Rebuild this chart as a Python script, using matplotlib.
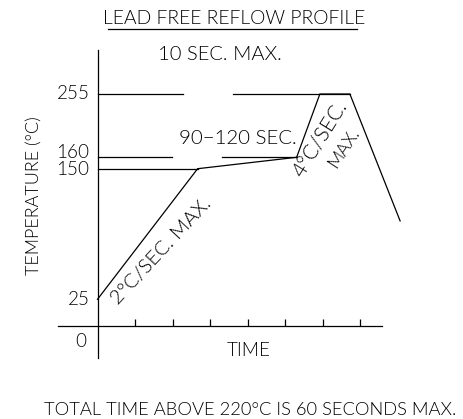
import numpy as np
import matplotlib
matplotlib.use("Agg")
import matplotlib.pyplot as plt
from matplotlib.lines import Line2D

# ---------------- data ----------------
level_temps = [0, 25, 150, 160, 255]
level_labels = ["0", "25", "150", "160", "255"]
profile_time = [0, 2.67, 5.31, 5.93, 6.73, 8.07]
profile_temp = [25, 150, 160, 255, 255, 100]
line255_segments = [(0, 2.29), (3.62, 6.73)]
line160_segments = [(0, 1.99), (3.31, 5.31)]
line150_segment = (0, 2.67)
time_ticks = [1, 2, 3, 4, 5, 6, 7]

title = "LEAD FREE REFLOW PROFILE"
ylabel = "TEMPERATURE (°C)"
xlabel = "TIME"
footer = "TOTAL TIME ABOVE 220°C IS 60 SECONDS MAX."
note_peak = "10 SEC. MAX."
note_soak = "90\u2212120 SEC."
note_ramp_up = "2°C/SEC. MAX."
note_ramp_peak = ["4°C/SEC.", "MAX."]

# schematic (non-linear) temperature axis: temperature -> drawing height
T_MAP = [-400, 0, 25, 150, 160, 255, 700]
H_MAP = [-420, 0, 26.7, 157.3, 168.7, 232, 637]


def fwd(t):
    return np.interp(np.asarray(t, float), T_MAP, H_MAP)


def inv(h):
    return np.interp(np.asarray(h, float), H_MAP, T_MAP)


W, H = 463, 419
plt.rcParams["font.family"] = ["Lato", "DejaVu Sans"]
plt.rcParams["font.weight"] = 300
LW = 0.9

fig = plt.figure(figsize=(W / 100, H / 100), dpi=100)
ax = fig.add_axes([0, 0, 1, 1])
ax.patch.set_alpha(0)

PX_PER_T = 37.5
X0 = 97.5
Y0 = 326
ax.set_xlim(-X0 / PX_PER_T, (W - X0) / PX_PER_T)
ax.set_yscale("function", functions=(fwd, inv))
ax.set_ylim(float(inv(Y0 - H)), float(inv(Y0)))

# profile
ax.plot(profile_time, profile_temp, color="black", lw=LW, solid_joinstyle="miter")
for a, b in line255_segments:
    ax.plot([a, b], [255, 255], color="black", lw=LW)
for a, b in line160_segments:
    ax.plot([a, b], [160, 160], color="black", lw=LW)
ax.plot(list(line150_segment), [150, 150], color="black", lw=LW)

# axes
for s in ["top", "right"]:
    ax.spines[s].set_visible(False)
ax.spines["left"].set_position(("data", 0))
ax.spines["bottom"].set_position(("data", 0))
ax.spines["left"].set_bounds(float(inv(Y0 - 358)), float(inv(Y0 - 50)))
ax.spines["bottom"].set_bounds((58 - X0) / PX_PER_T, (382 - X0) / PX_PER_T)
for s in ["left", "bottom"]:
    ax.spines[s].set_linewidth(LW)
ax.set_yticks([])
ax.set_xticks(time_ticks)
ax.tick_params(axis="x", direction="in", length=5, width=LW, labelbottom=False)

renderer = fig.canvas.get_renderer()


def fx(px):
    return px / W


def fy(py):
    return 1 - py / H


def put(px, py, s, target_w=None, size=14, **kw):
    t = fig.text(fx(px), fy(py), s, va="center", fontsize=size, **kw)
    if target_w is not None:
        rot = t.get_rotation()
        t.set_rotation(0)
        w = t.get_window_extent(renderer).width
        t.set_fontsize(size * target_w / w)
        t.set_rotation(rot)
    return t


put(250, 410, footer, target_w=412, ha="center")

# numbers sized from the widest one
probe = fig.text(0, 0, "255", fontsize=14)
NUM_FS = 14 * 33 / probe.get_window_extent(renderer).width
probe.remove()
label_py = {"0": 341.5, "25": 299.5, "150": 169.5, "160": 152.5, "255": 93.5}
for t, lab in zip(level_temps, level_labels):
    if lab == "0":
        put(81, label_py[lab], lab, size=NUM_FS, ha="center")
    else:
        put(89.5, label_py[lab], lab, size=NUM_FS, ha="right")

put(234, 18, title, target_w=262, ha="center")
fig.add_artist(Line2D([fx(108), fx(357)], [fy(28.7), fy(28.7)], color="black", lw=LW,
                      transform=fig.transFigure))
put(220, 55, note_peak, target_w=124, ha="center")
put(238, 138, note_soak, target_w=118, ha="center")
put(161, 251, note_ramp_up, target_w=138, ha="center",
    rotation=47, rotation_mode="anchor")
put(320, 139, note_ramp_peak[0], target_w=86, ha="center",
    rotation=58, rotation_mode="anchor")
put(344, 148, note_ramp_peak[1], target_w=44, ha="center",
    rotation=57, rotation_mode="anchor")
put(34, 196, ylabel, target_w=160, ha="center", rotation=90)
put(249, 350, xlabel, size=NUM_FS, ha="center")

fig.savefig("out.png", dpi=100, facecolor="white")
